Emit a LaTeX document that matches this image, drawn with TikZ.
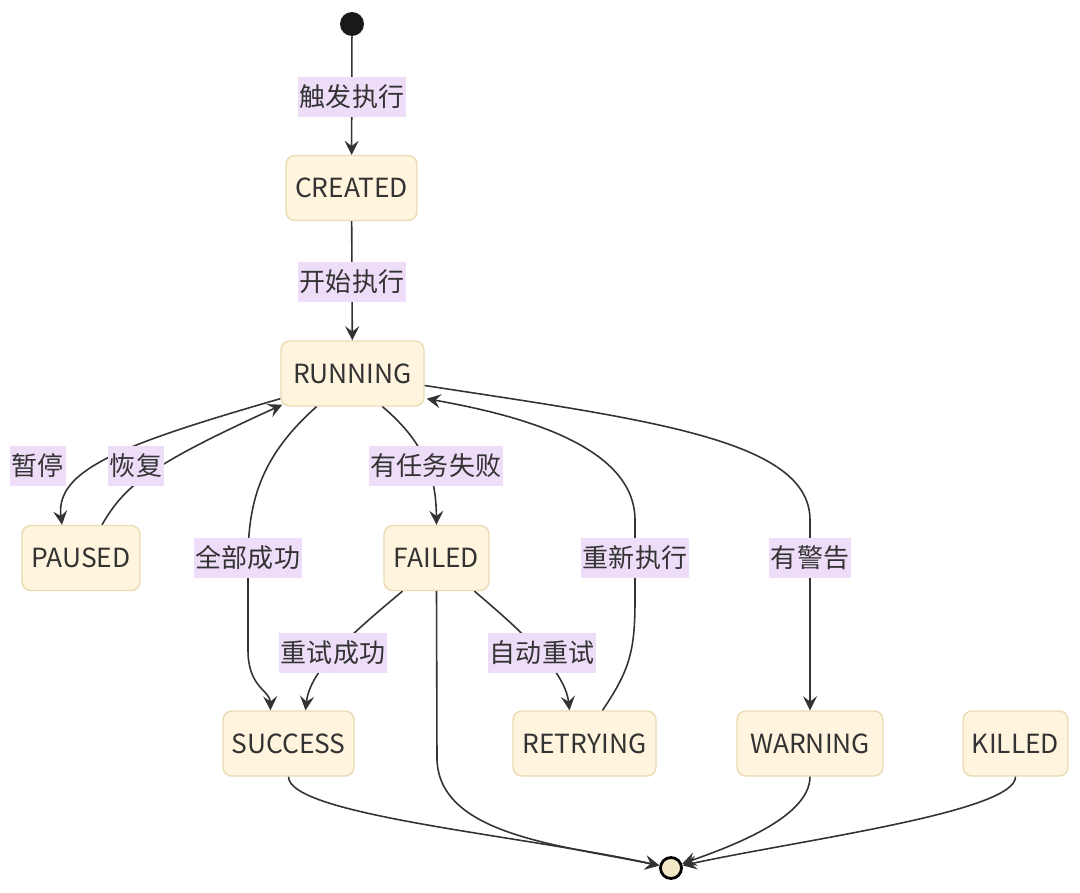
\documentclass[tikz,border=0pt]{standalone}
\usepackage{fontspec}
\setmainfont{Noto Sans CJK SC}
\usetikzlibrary{arrows.meta,calc}
\definecolor{creme}{HTML}{FFF4DD}
\definecolor{cremebord}{HTML}{EADBB3}
\definecolor{mauve}{HTML}{EEDDF8}
\definecolor{encre}{HTML}{333333}
\definecolor{fin}{HTML}{F2E8C6}

\begin{document}
\begin{tikzpicture}[x=0.02cm,y=-0.02cm,
  etat/.style={rectangle,rounded corners=5pt,draw=cremebord,line width=0.8pt,fill=creme,
    minimum height=1.3cm,font=\fontsize{15}{17}\selectfont,text=encre,inner sep=1pt},
  lbl/.style={fill=mauve,font=\fontsize{14.8}{17}\selectfont,text=encre,inner xsep=1pt,
    inner ysep=0pt,minimum height=0.8cm},
  tr/.style={draw=encre,line width=0.9pt,-{Stealth[length=8pt,width=8pt,inset=3pt]}}]
  \useasboundingbox (0,0) rectangle (1080,893);
  % etats
  \node[circle,fill=black!90,minimum size=0.48cm,inner sep=0pt] (debut) at (352,24) {};
  \node[circle,draw=black,line width=1.6pt,fill=fin,minimum size=0.42cm,inner sep=0pt] (arret) at (671,868) {};
  \foreach \n/\x/\y/\w/\t in {created/351.5/188/2.62/CREATED, running/352.5/373.5/2.86/RUNNING,
                              paused/81/558/2.36/PAUSED, failed/436.5/558/2.1/FAILED,
                              success/288.5/743.5/2.62/SUCCESS, retrying/584.5/743.5/2.86/RETRYING,
                              warning/810/743.5/2.92/WARNING, killed/1015.5/743.5/2.1/KILLED}
    \node[etat,minimum width=\w cm] (\n) at (\x,\y) {\t};
  % transitions
  \draw[tr] (debut) -- (created);
  \draw[tr] (created) -- (running);
  \draw[tr] ($(running.south west)+(0,-8)$) .. controls (120,445) and (55,470) .. ($(paused.north)+(-19,0)$);
  \draw[tr] ($(paused.north)+(21,0)$) .. controls (125,485) and (150,465) .. ($(running.south west)+(2,-2)$);
  \draw[tr] ($(running.south)+(-36,0)$) .. controls (262,455) and (248,500) .. (248,560)
    -- (248,650) .. controls (248,688) and (270,690) .. ($(success.north)+(-18,0)$);
  \draw[tr] ($(running.south)+(30,0)$) .. controls (428,445) and (436,480) .. (failed.north);
  \draw[tr] ($(failed.south)+(-34,0)$) .. controls (350,635) and (310,670) .. ($(success.north)+(17,0)$);
  \draw[tr] ($(failed.south)+(38,0)$) .. controls (520,630) and (565,670) .. ($(retrying.north)+(-15,0)$);
  \draw[tr] (failed.south) -- (437,760) .. controls (440,835) and (560,845) .. (arret);
  \draw[tr] ($(retrying.north)+(18,0)$) .. controls (630,670) and (635,650) .. (635,600)
    -- (635,520) .. controls (635,440) and (500,412) .. ($(running.south east)+(2,-8)$);
  \draw[tr] ($(running.east)+(0,12)$) .. controls (650,420) and (810,440) .. (810,520) -- (warning.north);
  \draw[tr] (success.south) .. controls (289,815) and (520,835) .. (arret);
  \draw[tr] (warning.south) .. controls (810,820) and (720,850) .. (arret);
  \draw[tr] (killed.south) .. controls (1016,812) and (800,840) .. (arret);
  % etiquettes
  \foreach \n/\x/\y/\t in {l1/352/97/触发执行, l2/352/282/开始执行, l3/38/466/暂停, l4/136/466/恢复,
                           l5/248/558/全部成功, l6/436/466/有任务失败, l7/635/558/重新执行,
                           l8/810/558/有警告, l9/333/653/重试成功, l10/542/653/自动重试}
    \node[lbl] (\n) at (\x,\y) {\t};
\end{tikzpicture}
\end{document}
